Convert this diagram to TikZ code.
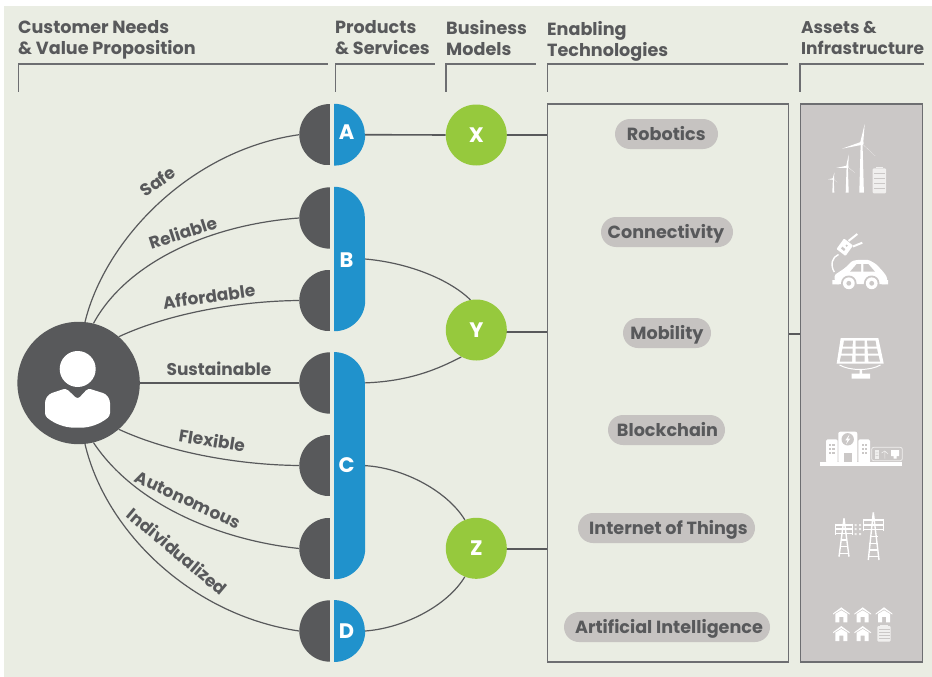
\documentclass[tikz,border=0pt]{standalone}
\usepackage{fontspec}
\setmainfont{Poppins}
\usetikzlibrary{shapes.misc,calc}
\pgfdeclarelayer{panel}
\pgfdeclarelayer{links}
\pgfsetlayers{panel,links,main}
\definecolor{bgc}{HTML}{EAEDE3}
\definecolor{darkc}{HTML}{58595B}
\definecolor{bluec}{HTML}{2092CC}
\definecolor{greenc}{HTML}{96C93D}
\definecolor{pillc}{HTML}{C6C3C1}
\definecolor{assetc}{HTML}{CBC8C7}
\definecolor{linec}{HTML}{6D6E71}
\definecolor{softw}{HTML}{F0EFEE}
\newcommand{\turbineicon}[7]{%
 \fill[white] (#1-#6,192.7) -- (#1-#6*.4,#2) -- (#1+#6*.4,#2) -- (#1+#6,192.7) -- cycle;
 \fill[white] (#1,#2) circle[radius=#7pt];
 \fill[white] (#3) -- ($(#1,#2)+(-#7*.8,0)$) -- ($(#1,#2)+(#7*.8,0)$) -- cycle;
 \fill[white] (#4) -- ($(#1,#2)+(0,-#7*.8)$) -- ($(#1,#2)+(0,#7*.8)$) -- cycle;
 \fill[white] (#5) -- ($(#1,#2)+(-#7*.6,-#7*.6)$) -- ($(#1,#2)+(#7*.6,#7*.6)$) -- cycle;
}
\newcommand{\houseicon}[2]{%
 \fill[white] (#1-8.3,#2+6.2) -- (#1,#2) -- (#1+8.3,#2+6.2) -- (#1+8.3,#2+7.2) -- (#1,#2+2) -- (#1-8.3,#2+7.2) -- cycle;
 \fill[white] (#1-6,#2+6.6) -- (#1,#2+3) -- (#1+6,#2+6.6) -- (#1+6,#2+15) -- (#1+2,#2+15) -- (#1+2,#2+9.5) -- (#1-2,#2+9.5) -- (#1-2,#2+15) -- (#1-6,#2+15) -- cycle;
}
\newcommand{\batteryicon}[4]{% x1,x2,y1,y2
 \fill[softw] (#1+3,#3-1.4) rectangle (#2-3,#3);
 \fill[softw,rounded corners=1pt] (#1,#3) rectangle (#2,#4);
 \foreach \k in {1,...,4}{\fill[assetc] (#1+1.2,{#3+(#4-(#3))*\k/5-.3}) rectangle (#2-1.2,{#3+(#4-(#3))*\k/5+.3});}
}
\tikzset{
 x=1pt,y=-1pt,
 bracket/.style={draw=linec,line width=1.2pt},
 conn/.style={draw=darkc,line width=1.2pt},
 connthick/.style={draw=darkc,line width=1.6pt},
 halfdisc/.style={circle,minimum size=61.4pt,inner sep=0pt,path picture={\fill[darkc] (path picture bounding box.south west) rectangle (path picture bounding box.north);}},
 pillshape/.style={rectangle,minimum width=30.7pt,inner sep=0pt},
 pilllabel/.style={text=white,font=\fontsize{21}{21}\selectfont\bfseries,inner sep=0pt,text height=14.7pt,text depth=0pt},
 model/.style={circle,fill=greenc,minimum size=61pt,inner sep=0pt,text=white,font=\fontsize{21}{21}\selectfont\bfseries,text height=14.7pt,text depth=0pt},
 header/.style={anchor=north west,inner sep=0pt,align=left,text=darkc,font=\fontsize{17.6}{21}\selectfont\bfseries},
 headernarrow/.style={header,font=\fontsize{17}{21}\selectfont\bfseries},
 need/.style={inner sep=0pt,text=darkc,font=\fontsize{17}{17}\selectfont\bfseries,text height=12pt,text depth=0pt},
 tech/.style={rounded rectangle,fill=pillc,inner sep=0pt,minimum height=30pt},
 techtext/.style={inner sep=0pt,text=darkc,font=\fontsize{17.6}{18}\selectfont\bfseries,text height=12.7pt,text depth=0pt},
 iconline/.style={draw=white,line width=1.1pt},
}
\newcommand{\bluepill}[1]{\fill[bluec] (#1.south west) -- (#1.north west) arc[start angle=90,end angle=0,radius=30.7pt] -- ($(#1.south east)+(0,-30.7)$) arc[start angle=0,end angle=-90,radius=30.7pt] -- cycle;}
\begin{document}
\begin{tikzpicture}
\useasboundingbox (0,0) rectangle (932,677);
\begin{pgfonlayer}{panel}
\fill[white] (0,0) rectangle (932,677);
\fill[bgc] (4,6) rectangle (932,677);
\end{pgfonlayer}
% headers
\node[header] (h1) at (18,19.8) {Customer Needs\\\& Value Proposition};
\node[header] (h2) at (335,19.8) {Products\\\& Services};
\node[header] (h3) at (446,19.8) {Business\\Models};
\node[header] (h4) at (547,20.8) {Enabling\\Technologies};
\node[headernarrow] (h5) at (801,20.8) {Assets \&\\Infrastructure};
\draw[bracket] (18.5,92) |- (328,64);
\draw[bracket] (335.5,92) |- (434.5,64);
\draw[bracket] (446,92) |- (536,64);
\draw[bracket] (547.5,92) |- (788,64);
\draw[bracket] (800,92) |- (924,64);
% nodes
\node[circle,fill=darkc,minimum size=122.4pt,inner sep=0pt] (person) at (78.6,383) {};
\foreach \n/\yy in {n1/134.7,n2/218,n3/300.5,n4/383,n5/465.5,n6/548.5,n7/631}{
  \node[halfdisc] (\n) at (330,\yy) {};
}
\node[pillshape,minimum height=61.4pt] (A) at (349.65,134.7) {};
\node[pillshape,minimum height=144pt] (B) at (349.65,259) {};
\node[pillshape,minimum height=226.7pt] (C) at (349.65,465.65) {};
\node[pillshape,minimum height=61.4pt] (D) at (349.65,631) {};
\node[model] (X) at (476.3,135) {X};
\node[model] (Y) at (476.3,330) {Y};
\node[model] (Z) at (476.3,548.3) {Z};
\node[rectangle,draw=linec,line width=1.2pt,minimum width=241pt,minimum height=558pt,inner sep=0pt] (techbox) at (668,383) {};
\node[rectangle,draw=linec,line width=1.2pt,fill=assetc,minimum width=122pt,minimum height=558pt,inner sep=0pt] (assets) at (861.5,383) {};
% connectors
\begin{pgfonlayer}{links}
\draw[conn] (person.84) .. controls (105,240) and (190,150) .. (n1.west);
\draw[conn] (person.76) .. controls (125,265) and (205,225) .. (n2.west);
\draw[conn] (person.49) .. controls (170,313) and (240,301) .. (n3.west);
\draw[connthick] (person.east) -- (n4.west);
\draw[conn] (person.-49) .. controls (170,453) and (240,465) .. (n5.west);
\draw[conn] (person.-76) .. controls (135,505) and (220,540) .. (n6.west);
\draw[conn] (person.-84) .. controls (105,530) and (190,615) .. (n7.west);
\draw[connthick] (A.east) -- (X.west);
\draw[connthick] (X) -- (techbox.west |- X);
\draw[connthick] (Y.center |- 0,331.7) -- (techbox.west |- 0,331.7);
\draw[connthick] (Z.center |- 0,549) -- (techbox.west |- 0,549);
\draw[connthick] (techbox.east |- 0,334) -- (assets.west |- 0,334);
\draw[conn] (B.east) .. controls (410,263) and (450,280) .. (Y.101);
\draw[conn] (n4.east) .. controls (410,382) and (440,368) .. (Y.241);
\draw[conn] (C.east) .. controls (405,468) and (448,492) .. (Z.112);
\draw[conn] (D.east) .. controls (405,628) and (448,605) .. (Z.248);
\end{pgfonlayer}
\bluepill{A}\bluepill{B}\bluepill{C}\bluepill{D}
\node[pilllabel] (la) at (346.5,132.5) {A};
\node[pilllabel] (lb) at (346.5,260) {B};
\node[pilllabel] (lc) at (346.5,465.5) {C};
\node[pilllabel] (ld) at (346.5,631.5) {D};
% person icon
\fill[white] (77.7,369) circle[radius=18pt];
\fill[white,rounded corners=3pt] (45,416) -- (45,400) -- (49,394) -- (66,388.3) -- (77.7,399.3) -- (88,388.3) -- (106,394) -- (110,400) -- (110,416) .. controls (100,424) and (90,427.7) .. (77.7,427.7) .. controls (65,427.7) and (55,424) .. cycle;
% need labels
\node[need,rotate=35] (safe) at (158,182) {Safe};
\node[need,rotate=18] (reliable) at (183,233) {Reliable};
\node[need,rotate=8] (affordable) at (209,297) {Affordable};
\node[need] (sustainable) at (219,369) {Sustainable};
\node[need,rotate=-9] (flexible) at (212,441) {Flexible};
\node[need,rotate=-25] (autonomous) at (188,500) {Autonomous};
\node[need,rotate=-40] (individualized) at (177,552) {Individualized};
% tech
\node[tech,minimum width=103pt] (t1) at (666.5,134) {};
\node[techtext] (t1t) at (666.3,134) {Robotics};
\node[tech,minimum width=132pt] (t2) at (667,232) {};
\node[techtext] (t2t) at (666,232) {Connectivity};
\node[tech,minimum width=88pt] (t3) at (667,333) {};
\node[techtext] (t3t) at (667,333) {Mobility};
\node[tech,minimum width=117pt] (t4) at (666.5,430) {};
\node[techtext] (t4t) at (667.5,430) {Blockchain};
\node[tech,minimum width=177pt] (t5) at (666.5,528) {};
\node[techtext] (t5t) at (668.5,528) {Internet of Things};
\node[tech,minimum width=206pt] (t6) at (667,627) {};
\node[techtext] (t6t) at (669,627) {Artificial Intelligence};
% wind turbines
\turbineicon{861.6}{143.3}{864.7,124}{842,148.7}{875.3,156}{2.3}{2}
\turbineicon{847.2}{166.7}{848.7,154.3}{836,168}{855,172.7}{1.5}{1.4}
\turbineicon{833.3}{179}{834.3,172.7}{828,179.3}{837.3,182.3}{1}{1}
\batteryicon{872.7}{886}{168.3}{193.3}
% car
\fill[white,rounded corners=1.5pt] (835,284) -- (834.5,275) -- (845,268) -- (852,261) -- (858,259.8) -- (868.5,259.8) -- (876,264) -- (883,271.5) -- (887,277) -- (887,284) -- cycle;
\fill[white] (832.3,280) rectangle (839.3,284.3) (881.7,280) rectangle (888,284.3);
\fill[assetc] (848.8,283.3) circle[radius=7.8pt] (871.7,283.3) circle[radius=7.8pt];
\fill[white] (848.8,283.3) circle[radius=5.9pt] (871.7,283.3) circle[radius=5.9pt];
\fill[assetc] (848.8,283.3) circle[radius=2.4pt] (871.7,283.3) circle[radius=2.4pt];
\fill[assetc] (850,271.7) -- (856.7,264) -- (861,264) -- (861,271.7) -- cycle;
\fill[assetc] (863.3,264) -- (868.3,264) -- (875,271.7) -- (863.3,271.7) -- cycle;
\draw[white,line width=1.4pt] (838.5,254.5) .. controls (832,257) and (830,265) .. (834.3,272);
\fill[white,rounded corners=.8pt] (836.5,249) -- (844,238.5) -- (853,245.5) -- (845.5,256) -- cycle;
\fill[assetc] (841,248.5) -- (842.4,246.7) -- (845.4,249.2) -- (844,251) -- cycle (846.5,244.5) -- (847.8,245.5) -- (846.8,246.8) -- (845.5,245.8) -- cycle;
\draw[white,line width=2pt] (848.5,241) -- (857.3,234) (853,246.5) -- (862.3,242.7);
% solar panel
\fill[white] (840.7,338) -- (878.3,338) -- (883.7,363.5) -- (836.7,363.5) -- cycle;
\fill[assetc] (844,340.5) -- (853,340.5) -- (852.5,346.5) -- (843,346.5) -- cycle
 (855.5,340.5) -- (864.5,340.5) -- (864.5,346.5) -- (855.5,346.5) -- cycle
 (867,340.5) -- (875.5,340.5) -- (876.5,346.5) -- (867.5,346.5) -- cycle
 (842.5,348.5) -- (852.5,348.5) -- (852.5,353.5) -- (841.5,353.5) -- cycle
 (855.5,348.5) -- (864.5,348.5) -- (864.5,353.5) -- (855.5,353.5) -- cycle
 (867.5,348.5) -- (877,348.5) -- (878,353.5) -- (868,353.5) -- cycle
 (841,355.5) -- (852,355.5) -- (852,361.5) -- (839.8,361.5) -- cycle
 (855.5,355.5) -- (864.5,355.5) -- (864.5,361.5) -- (855.5,361.5) -- cycle
 (868,355.5) -- (878.5,355.5) -- (880,361.5) -- (868.5,361.5) -- cycle;
\draw[white,line width=1pt] (839.5,365) .. controls (850,371) and (870,371) .. (880.5,365);
\fill[white] (859.5,369) rectangle (862,374) (851.7,373.5) rectangle (870,378.5);
% building
\fill[white] (820,462.3) rectangle (902,465.7);
\fill[white,rounded corners=2pt] (838.3,463) -- (838.3,431.7) -- (857.3,431.7) -- (857.3,463) -- cycle;
\fill[white,rounded corners=1.5pt] (826,463) -- (826,439.3) -- (837.7,439.3) -- (837.7,463) -- cycle;
\fill[white,rounded corners=1.5pt] (858.3,463) -- (858.3,439.3) -- (870,439.3) -- (870,463) -- cycle;
\fill[assetc] (844.3,453.3) rectangle (852.3,462.3);
\fill[assetc] (847.7,439.3) circle[radius=6.2pt];
\fill[white] (849.5,434.5) -- (845.3,440.3) -- (847.6,440.3) -- (846,444.3) -- (850.3,438.5) -- (848,438.5) -- cycle;
\foreach \wx in {828.8,832.3,861.5,865}{\foreach \wy in {443.5,447.5,451.5}{\fill[assetc] (\wx,\wy) rectangle (\wx+2.2,\wy+2.2);}}
\draw[softw,line width=.7pt,rounded corners=2pt] (871.7,447.3) rectangle (902.3,460.7);
\fill[softw] (875,450) rectangle (879,458.5);
\fill[assetc] (875.6,452.5) rectangle (878.4,453) (875.6,455) rectangle (878.4,455.5);
\draw[softw,line width=.6pt] (884.8,451) -- (884.8,458.5) (881.5,453) -- (884.8,451) -- (888,454);
\fill[white] (891,450) rectangle (899,456) (893.5,456) rectangle (896.5,458.5);
% pylons
\draw[iconline,line width=1.4pt] (873.3,512.3) -- (868.3,560) (873.3,512.3) -- (879,560);
\draw[iconline] (863.3,520) -- (884.3,520) (863.3,525) -- (884.3,525) (863.3,529.5) -- (884.3,529.5)
 (869.5,536.7) -- (877.5,536.7) (869.3,543.3) -- (878,543.3) (869,550) -- (878.3,550) (868.7,556.7) -- (878.7,556.7)
 (863.8,518.5) -- (863.8,530.5) (883.8,518.5) -- (883.8,530.5);
\draw[iconline,line width=1.4pt] (844,518.3) -- (839,556.7) (844,518.3) -- (849,556.7);
\draw[iconline] (835,525) -- (853.3,525) (835,529) -- (853.3,529) (835,533.3) -- (853.3,533.3)
 (841,540) -- (847.3,540) (840.3,546.7) -- (848,546.7) (839.6,553.3) -- (848.6,553.3)
 (835.5,523.5) -- (835.5,534.5) (852.8,523.5) -- (852.8,534.5);
\fill[softw] (854.5,524) rectangle +(2,2) (859,524) rectangle +(2,2) (854.5,528) rectangle +(2,2) (859,528) rectangle +(2,2) (854.5,533) rectangle +(2,2) (859,533) rectangle +(2,2);
% houses
\houseicon{841.3}{607.3}
\houseicon{862.7}{607.3}
\houseicon{884}{607.3}
\houseicon{841.3}{626}
\houseicon{862.7}{626}
\batteryicon{877.3}{890.7}{626}{641.5}
\end{tikzpicture}
\end{document}
